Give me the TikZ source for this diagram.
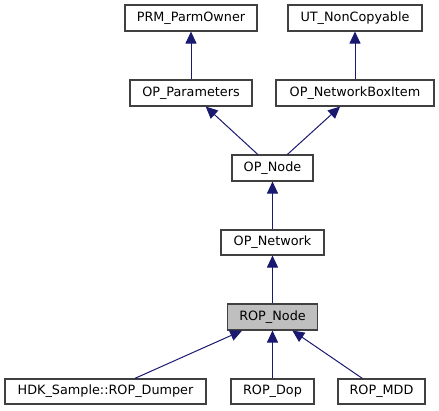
\documentclass[tikz,border=0pt]{standalone}
\usepackage{fontspec}
\setmainfont{DejaVu Sans}
\usetikzlibrary{arrows.meta}
\definecolor{edgecol}{HTML}{191970}
\definecolor{boxline}{HTML}{404040}
\definecolor{curfill}{HTML}{BFBFBF}
\tikzset{
  cls/.style={draw=boxline, line width=1.1pt, fill=white, minimum height=26pt, inner sep=0pt,
    font=\fontsize{12.8}{15}\selectfont},
  cur/.style={cls, fill=curfill},
  inh/.style={draw=edgecol, line width=1pt, -{Triangle[length=12pt,width=11pt]}}
}
\begin{document}
\begin{tikzpicture}[x=1pt,y=-1pt]
\useasboundingbox (0,0) rectangle (439,411);
\node[cls, minimum width=132pt] (prm) at (191,18) {PRM\_ParmOwner};
\node[cls, minimum width=134pt] (ut) at (355,18) {UT\_NonCopyable};
\node[cls, minimum width=122pt] (opp) at (191,93) {OP\_Parameters};
\node[cls, minimum width=158pt] (opnb) at (355,93) {OP\_NetworkBoxItem};
\node[cls, minimum width=81pt] (opnode) at (272.5,168) {OP\_Node};
\node[cls, minimum width=103pt, minimum height=25pt] (opnet) at (272.5,242.5) {OP\_Network};
\node[cur, minimum width=90pt] (rop) at (272.5,317) {ROP\_Node};
\node[cls, minimum width=201pt, minimum height=25pt] (dump) at (105.5,391.5) {HDK\_Sample::ROP\_Dumper};
\node[cls, minimum width=83pt, minimum height=25pt] (dop) at (272.5,391.5) {ROP\_Dop};
\node[cls, minimum width=87pt, minimum height=25pt] (mdd) at (381.5,391.5) {ROP\_MDD};
\draw[inh] (opp) -- (prm);
\draw[inh] (opnb) -- (ut);
\draw[inh] (opnode) -- (opp);
\draw[inh] (opnode) -- (opnb);
\draw[inh] (opnet) -- (opnode);
\draw[inh] (rop) -- (opnet);
\draw[inh] (dump) -- (rop);
\draw[inh] (dop) -- (rop);
\draw[inh] (mdd) -- (rop);
\end{tikzpicture}
\end{document}
